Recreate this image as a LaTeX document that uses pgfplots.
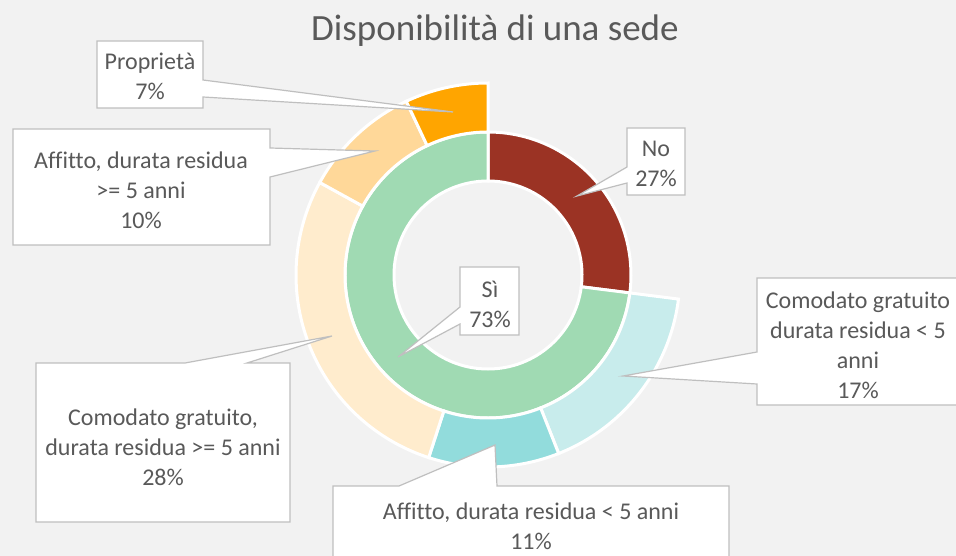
\documentclass[border=0pt]{standalone}
\usepackage{pgfplots}
\pgfplotsset{compat=1.18}
\usepackage{fontspec}
\setmainfont{Carlito}[Ligatures={NoCommon}]
\definecolor{bg}{HTML}{F2F2F2}
\definecolor{tcol}{HTML}{595959}
\definecolor{bcol}{HTML}{BFBFBF}
\definecolor{cno}{HTML}{9B3324}
\definecolor{csi}{HTML}{A0DAB3}
\definecolor{ca}{HTML}{C8ECEC}
\definecolor{cb}{HTML}{92DCDC}
\definecolor{cc}{HTML}{FFECCD}
\definecolor{cd}{HTML}{FFD899}
\definecolor{ce}{HTML}{FFA500}
\begin{document}
\begin{tikzpicture}
\path[use as bounding box] (0,0) rectangle (956pt,556pt);
\clip (0,0) rectangle (956pt,556pt);
\begin{axis}[at={(0,0)}, anchor=south west, x=1pt, y=1pt,
  xmin=0, xmax=956, ymin=0, ymax=556, y dir=reverse,
  hide axis, clip=false]
\fill[bg] (axis cs:-5,-5) rectangle (axis cs:961,561);
\coordinate (C) at (axis cs:488,275);
\pgfplotsextra{
  % inner ring: No, Si
  \foreach \v/\c [remember=\e as \s (initially 0)] in {27/cno,73/csi}{
    \pgfmathsetmacro\e{\s+\v}
    \pgfmathsetmacro\aS{90-3.6*\s}
    \pgfmathsetmacro\aE{90-3.6*\e}
    \fill[\c, draw=white, line width=3pt, line join=miter]
      ([shift={(\aS:143pt)}]C) arc[start angle=\aS, end angle=\aE, radius=143pt]
      -- ([shift={(\aE:94pt)}]C) arc[start angle=\aE, end angle=\aS, radius=94pt] -- cycle;
  }
  % outer ring: detail of Si (the first 27 is the No share, left empty)
  \foreach \v/\c [remember=\e as \s (initially 27)] in {17/ca,11/cb,28/cc,10/cd,7/ce}{
    \pgfmathsetmacro\e{\s+\v}
    \pgfmathsetmacro\aS{90-3.6*\s}
    \pgfmathsetmacro\aE{90-3.6*\e}
    \fill[\c, draw=white, line width=3pt, line join=miter]
      ([shift={(\aS:192pt)}]C) arc[start angle=\aS, end angle=\aE, radius=192pt]
      -- ([shift={(\aE:143pt)}]C) arc[start angle=\aE, end angle=\aS, radius=143pt] -- cycle;
  }
}
\tikzset{callout/.style={fill=white, draw=bcol, line width=1.2pt, line join=miter},
         lab/.style={align=center, text=tcol, inner sep=0pt, font=\fontsize{24}{30}\selectfont}}
% Proprieta
\filldraw[callout] (axis cs:97,41)--(axis cs:203,41)--(axis cs:203,80)--(axis cs:453,112)--(axis cs:203,97)--(axis cs:203,108)--(axis cs:97,108)--cycle;
\node[lab] at (axis cs:150,76) {Proprietà\\7\%};
% Affitto >= 5
\filldraw[callout] (axis cs:13,129)--(axis cs:270,129)--(axis cs:270,148)--(axis cs:375,151)--(axis cs:270,177)--(axis cs:270,245)--(axis cs:13,245)--cycle;
\node[lab] at (axis cs:141,190) {Affitto, durata residua\\>= 5 anni\\10\%};
% No
\filldraw[callout] (axis cs:627,128)--(axis cs:685,128)--(axis cs:685,195)--(axis cs:627,195)--(axis cs:627,183)--(axis cs:577,196)--(axis cs:627,167)--cycle;
\node[lab] at (axis cs:656,164) {No\\27\%};
% Si
\filldraw[callout] (axis cs:460,267)--(axis cs:519,267)--(axis cs:519,335)--(axis cs:460,335)--(axis cs:460,324)--(axis cs:398,357)--(axis cs:460,307)--cycle;
\node[lab] at (axis cs:490,304) {Sì\\73\%};
% Comodato < 5
\filldraw[callout] (axis cs:757,278)--(axis cs:962,278)--(axis cs:962,405)--(axis cs:757,405)--(axis cs:757,384)--(axis cs:623,376)--(axis cs:757,352)--cycle;
\node[lab] at (axis cs:858,345) {Comodato gratuito\\durata residua < 5\\anni\\17\%};
% Affitto < 5
\filldraw[callout] (axis cs:333,486)--(axis cs:399,486)--(axis cs:495,445)--(axis cs:497,486)--(axis cs:729,486)--(axis cs:729,562)--(axis cs:333,562)--cycle;
\node[lab] at (axis cs:531,526) {Affitto, durata residua < 5 anni\\11\%};
% Comodato >= 5
\filldraw[callout] (axis cs:36,363)--(axis cs:185,363)--(axis cs:332,336)--(axis cs:247,363)--(axis cs:290,363)--(axis cs:290,522)--(axis cs:36,522)--cycle;
\node[lab] at (axis cs:163,447) {Comodato gratuito,\\durata residua >= 5 anni\\28\%};
% title
\node[font=\fontsize{37}{44}\selectfont, text=tcol, anchor=base] at (axis cs:495,41) {Disponibilità di una sede};
\end{axis}
\end{tikzpicture}
\end{document}
